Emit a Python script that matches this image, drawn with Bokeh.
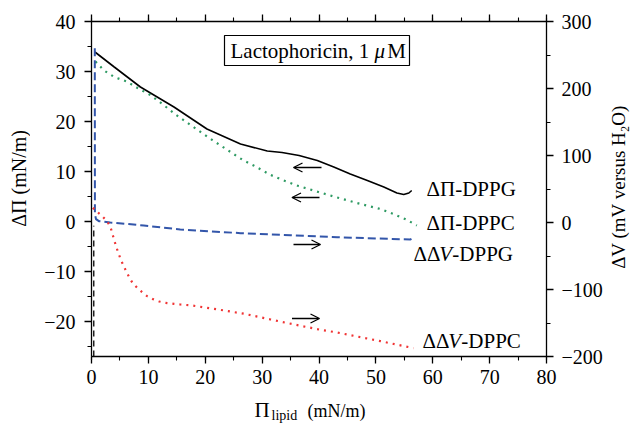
import math

from bokeh.embed import file_html
from bokeh.layouts import column, row
from bokeh.models import (Arrow, BoxAnnotation, CustomJSTickFormatter, Label,
                          LinearAxis, OpenHead, Range1d, SingleIntervalTicker)
from bokeh.plotting import figure
from bokeh.resources import INLINE

# Surface pressure increase (mN/m) vs initial lipid surface pressure (mN/m)
dppg_pi_x = [0.6, 4.0, 8.6, 14.5, 20.3, 26.2, 30.9, 33.5, 36.5, 39.7, 42.6,
             45.5, 48.5, 51.4, 53.7, 54.9, 55.8, 56.3]
dppg_pi_y = [33.9, 30.9, 26.9, 22.9, 18.5, 15.5, 14.1, 13.8, 13.2, 12.2, 10.9,
             9.5, 8.2, 6.9, 5.7, 5.4, 5.7, 6.2]

dppc_pi_x = [0.7, 2.2, 4.0, 6.2, 8.1, 10.2, 12.0, 14.9, 20.7, 26.6, 28.5,
             31.5, 33.8, 36.4, 39.9, 42.9, 46.7, 50.8, 53.1, 55.5, 57.2]
dppc_pi_y = [32.0, 30.2, 28.9, 28.0, 26.7, 25.4, 23.9, 21.3, 16.7, 12.3, 11.2,
             9.3, 8.2, 7.1, 5.9, 4.9, 3.7, 2.5, 1.5, 0.3, -0.8]

# Surface potential change (mV versus H2O)
dppg_dv_x = [0.58, 0.6, 0.8, 1.3, 3.3, 9.2, 15.6, 26.2, 35.0, 43.2, 56.1, 56.3]
dppg_dv_y = [260, 12, 5, 2, 0, -4.5, -10.4, -15.9, -18.9, -21.9, -25.4, -21.9]

dppc_dv_x = [0.23, 1.87, 2.75, 3.34, 3.93, 4.33, 4.68, 5.1, 5.56, 6.03, 6.62,
             7.2, 8.03, 8.9, 9.78, 10.8, 11.9, 13.0, 14.5, 15.6, 17.7, 22.3,
             26.9, 31.5, 36.0, 40.6, 42.9, 50.8, 56.6]
dppc_dv_y = [21.9, 9.5, 2.0, -6.9, -24.4, -35.8, -44.3, -54.3, -63.2, -71.6,
             -81.6, -90.1, -97.5, -104.0, -109.9, -114.4, -117.9, -119.9,
             -121.4, -122.4, -123.9, -129.9, -136.3, -144.8, -152.8, -160.7,
             -163.7, -177.1, -187.5]

# Potential jump at injection
jump_x = [0.4, 0.4]
jump_y = [-200, -5]

X_RANGE = (0, 80)
PI_RANGE = (-27, 40)
DV_RANGE = (-200, 300)

# Page layout (pixels): left title strip | main plot | right title strip,
# with a strip underneath for the x-axis title.
W, H = 630, 423
LEFT_W, RIGHT_W, BOTTOM_H = 30, 22, 28
MAIN_W, MAIN_H = W - LEFT_W - RIGHT_W, H - BOTTOM_H
# frame edges in page pixels
FX0, FX1, FY0, FY1 = 91, 546, 21, 356

FONT = "Liberation Serif"
GREEN = "#2e9a63"
RED = "#f03434"
BLUE = "#3356aa"


def px2x(px):
    return X_RANGE[0] + (px - FX0) * (X_RANGE[1] - X_RANGE[0]) / (FX1 - FX0)


def py2y(py):
    return PI_RANGE[1] - (py - FY0) * (PI_RANGE[1] - PI_RANGE[0]) / (FY1 - FY0)


p = figure(width=MAIN_W, height=MAIN_H, output_backend="svg",
           toolbar_location=None,
           x_range=Range1d(*X_RANGE), y_range=Range1d(*PI_RANGE),
           min_border_left=FX0 - LEFT_W, min_border_right=LEFT_W + MAIN_W - FX1,
           min_border_top=FY0, min_border_bottom=MAIN_H - FY1)
p.extra_y_ranges = {"dv": Range1d(*DV_RANGE)}
p.grid.visible = False
p.outline_line_color = None
p.background_fill_color = "white"
p.border_fill_color = "white"

minus_fmt = CustomJSTickFormatter(
    code='return tick < 0 ? "\\u2212" + Math.abs(tick) : String(tick);')
blank_fmt = CustomJSTickFormatter(code='return "";')


def style_axis(ax, standoff=8):
    ax.axis_line_color = "black"
    ax.axis_line_width = 1.3
    ax.major_tick_line_color = "black"
    ax.minor_tick_line_color = "black"
    ax.major_tick_line_width = 1.3
    ax.minor_tick_line_width = 1.1
    ax.major_tick_in = 0
    ax.major_tick_out = 7
    ax.minor_tick_in = 0
    ax.minor_tick_out = 4
    ax.major_label_text_font = FONT
    ax.major_label_text_font_size = "20px"
    ax.major_label_text_color = "black"
    ax.major_label_standoff = standoff
    ax.formatter = minus_fmt


xaxis = p.below[0]
xaxis.ticker = SingleIntervalTicker(interval=10, num_minor_ticks=2)
style_axis(xaxis, 6)

yaxis = p.left[0]
yaxis.ticker = SingleIntervalTicker(interval=10, num_minor_ticks=2)
style_axis(yaxis, 9)

raxis = LinearAxis(y_range_name="dv",
                   ticker=SingleIntervalTicker(interval=100, num_minor_ticks=2))
style_axis(raxis, 8)
p.add_layout(raxis, "right")

taxis = LinearAxis(ticker=SingleIntervalTicker(interval=10, num_minor_ticks=2))
style_axis(taxis, 0)
taxis.formatter = blank_fmt
p.add_layout(taxis, "above")

# Curves
p.line(dppg_pi_x, dppg_pi_y, line_color="black", line_width=1.6)
p.line(dppc_pi_x, dppc_pi_y, line_color=GREEN, line_width=2.2,
       line_dash="2 5")
p.line(dppg_dv_x, dppg_dv_y, y_range_name="dv", line_color=BLUE,
       line_width=2, line_dash="8 4")
p.line(dppc_dv_x, dppc_dv_y, y_range_name="dv", line_color=RED,
       line_width=2.2, line_dash="2 5")
p.line(jump_x, jump_y, y_range_name="dv", line_color="black",
       line_width=1.3, line_dash="6 4")


def put_text(fig, x, y, pieces, size=21, angle=0.0, align="left"):
    """Lay out a run of text pieces (text, font style, advance in em)."""
    off = 0.0
    for text, style, adv in pieces:
        fig.add_layout(Label(x=x, y=y, x_offset=off, text=text,
                             text_font=FONT, text_font_style=style,
                             text_font_size=f"{size}px", text_color="black",
                             text_baseline="middle", text_align=align,
                             angle=angle))
        off += adv * size


def main_text(px, py, pieces, **kw):
    put_text(p, px2x(px), py2y(py), pieces, **kw)


# Series labels
main_text(426, 188, [("ΔΠ-DPPG", "normal", 0)])
main_text(426, 222, [("ΔΠ-DPPC", "normal", 0)])
main_text(413, 253, [("ΔΔ", "normal", 1.23), ("V", "italic", 0.62),
                     ("-DPPG", "normal", 0)])
main_text(422, 340, [("ΔΔ", "normal", 1.23), ("V", "italic", 0.62),
                     ("-DPPC", "normal", 0)])

# Direction arrows (pressure curves read on the left, potentials on the right)
for x0, x1, py in [(321, 293, 167), (319, 291.5, 197), (293, 320, 244),
                   (291.5, 319, 318)]:
    p.add_layout(Arrow(x_start=px2x(x0), y_start=py2y(py),
                       x_end=px2x(x1), y_end=py2y(py),
                       line_color="black", line_width=1.3,
                       end=OpenHead(size=9, line_color="black",
                                    line_width=1.3)))

# Boxed caption
p.add_layout(BoxAnnotation(left=px2x(224), right=px2x(409),
                           top=py2y(35), bottom=py2y(65),
                           fill_color="white", fill_alpha=1.0,
                           line_color="black", line_width=1.2, line_alpha=1.0))
main_text(230, 50, [("Lactophoricin, 1", "normal", 6.86),
                    ("μ", "italic", 0.6), ("M", "normal", 0)])


def title_strip(w, h):
    """A bare figure whose frame is the whole strip, in pixel units (y down)."""
    f = figure(width=w, height=h, output_backend="svg", toolbar_location=None,
               x_range=Range1d(0, w), y_range=Range1d(h, 0), min_border=0,
               x_axis_type=None, y_axis_type=None)
    f.grid.visible = False
    f.outline_line_color = None
    f.background_fill_color = "white"
    f.border_fill_color = "white"
    return f


left_strip = title_strip(LEFT_W, MAIN_H)
put_text(left_strip, 18, 185, [("ΔΠ (mN/m)", "normal", 0)], size=20,
         angle=math.pi / 2, align="center")

right_strip = title_strip(RIGHT_W, MAIN_H)
put_text(right_strip, 618 - (W - RIGHT_W), 195,
         [("ΔV (mV versus H₂O)", "normal", 0)], size=19,
         angle=math.pi / 2, align="center")

bottom_strip = title_strip(W, BOTTOM_H)
put_text(bottom_strip, 254, 409 - MAIN_H, [("Π", "normal", 0)], size=21)
put_text(bottom_strip, 271, 415 - MAIN_H, [("lipid", "normal", 0)], size=14)
put_text(bottom_strip, 307, 410 - MAIN_H, [("(mN/m)", "normal", 0)], size=18)

layout = column(row(left_strip, p, right_strip, spacing=0), bottom_strip,
                spacing=0)

open("out.html", "w").write(file_html(layout, INLINE))
